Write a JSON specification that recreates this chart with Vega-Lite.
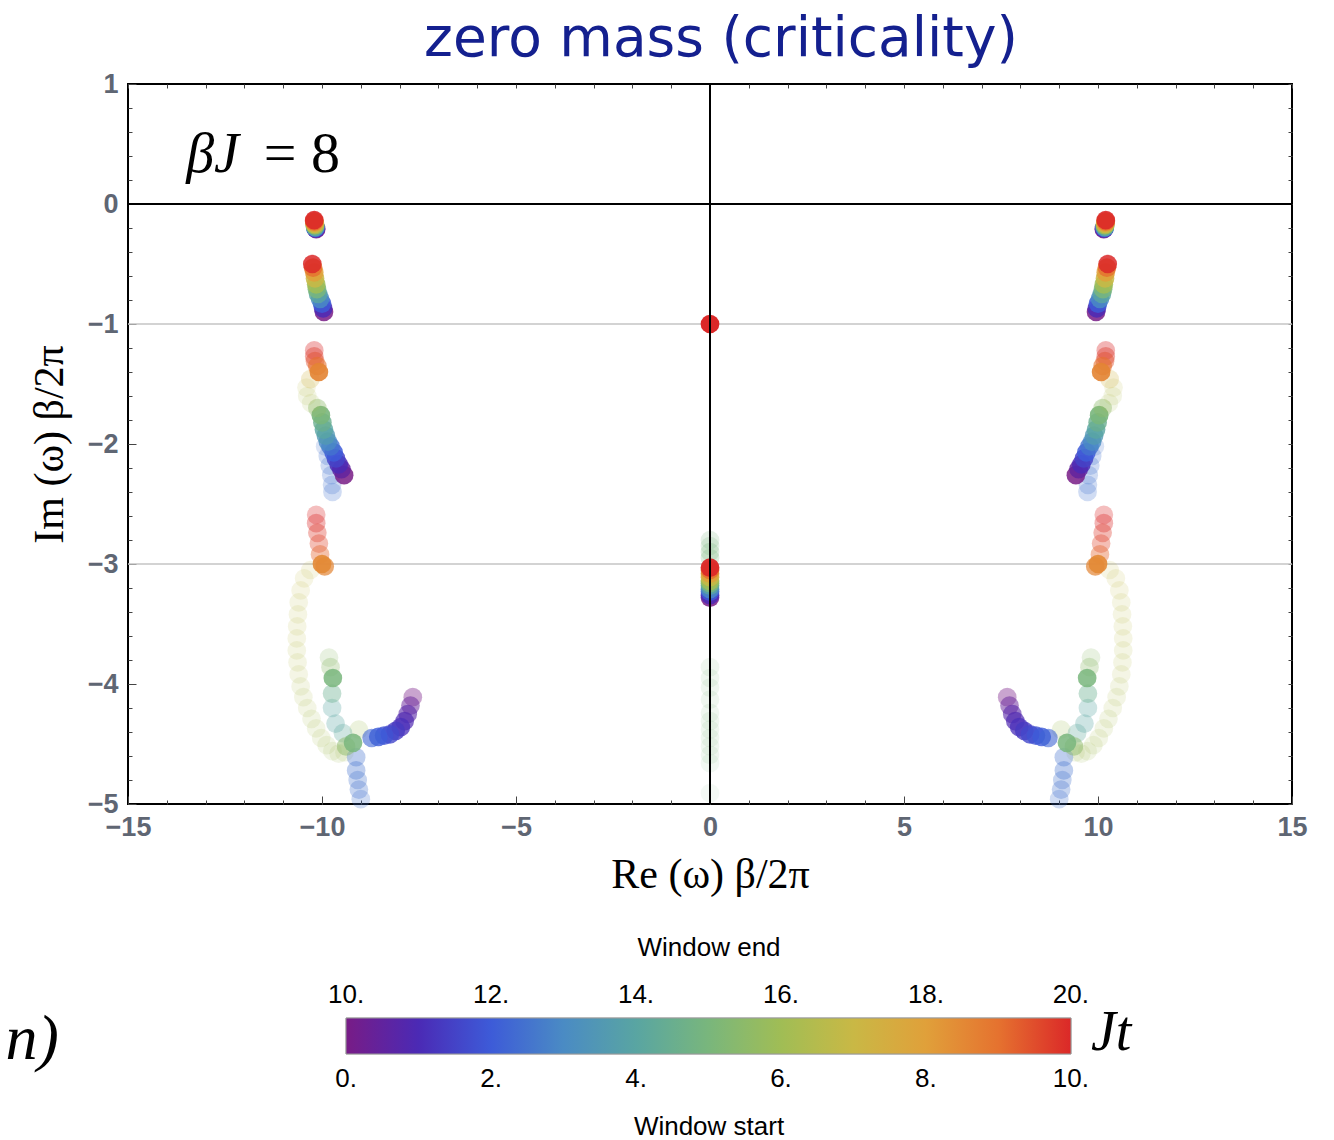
{
  "$schema": "https://vega.github.io/schema/vega-lite/v6.json",
  "width": 1164,
  "height": 720,
  "autosize": "none",
  "padding": {"left": 128, "top": 84, "right": 42, "bottom": 336},
  "background": "white",
  "config": {
    "view": {"stroke": "black", "strokeWidth": 2},
    "axis": {"labelOverlap": false, "labelFlush": false, "domain": false, "grid": false, "tickColor": "#444",
      "labelFont": "Liberation Sans", "labelFontSize": 27, "labelFontWeight": "bold", "labelColor": "#5f6673",
      "titleFont": "Liberation Serif", "titleFontSize": 42, "titleFontWeight": "normal", "titleColor": "black"}
  },
  "title": {"text": "zero mass (criticality)", "font": "DejaVu Sans", "fontSize": 55, "fontWeight": "normal", "color": "#14208f", "anchor": "middle", "frame": "group", "offset": 2, "dx": 11},
  "resolve": {"scale": {"color": "independent", "opacity": "independent"}, "axis": {"x": "independent", "y": "independent"}},
  "layer": [
    {
      "data": {"values": [{"y": -1}, {"y": -3}]},
      "mark": {"type": "rule", "color": "#c4c4c4", "strokeWidth": 1.5},
      "encoding": {
        "y": {"field": "y", "type": "quantitative", "scale": {"domain": [-5, 1], "nice": false, "zero": false},
          "title": "Im (ω) β/2π",
          "axis": {"orient": "left", "values": [-5, -4, -3, -2, -1, 0, 1], "format": "d",
            "tickSize": -8, "labelPadding": 18, "titlePadding": 16}
        }
      }
    },
    {
      "data": {"name": "poles", "values": [
        {"x":-10.3,"y":-3.05,"t":6.9,"a":0.15},{"x":-10.46,"y":-3.12,"t":6.85,"a":0.15},{"x":-10.55,"y":-3.22,"t":6.8,"a":0.15},{"x":-10.6,"y":-3.32,"t":6.75,"a":0.15},{"x":-10.62,"y":-3.42,"t":6.7,"a":0.15},{"x":-10.64,"y":-3.52,"t":6.65,"a":0.15},{"x":-10.65,"y":-3.62,"t":6.6,"a":0.15},{"x":-10.65,"y":-3.72,"t":6.55,"a":0.15},{"x":-10.63,"y":-3.82,"t":6.5,"a":0.15},{"x":-10.6,"y":-3.92,"t":6.45,"a":0.15},{"x":-10.55,"y":-4.02,"t":6.4,"a":0.15},{"x":-10.48,"y":-4.11,"t":6.35,"a":0.15},{"x":-10.38,"y":-4.2,"t":6.3,"a":0.15},{"x":-10.27,"y":-4.29,"t":6.25,"a":0.15},{"x":-10.15,"y":-4.37,"t":6.2,"a":0.15},{"x":-10.02,"y":-4.45,"t":6.15,"a":0.15},{"x":-9.88,"y":-4.51,"t":6.1,"a":0.15},{"x":-9.73,"y":-4.56,"t":6.05,"a":0.15},{"x":-9.57,"y":-4.58,"t":6.0,"a":0.15},{"x":-9.42,"y":-4.57,"t":5.95,"a":0.15},
        {"x":10.3,"y":-3.05,"t":6.9,"a":0.15},{"x":10.46,"y":-3.12,"t":6.85,"a":0.15},{"x":10.55,"y":-3.22,"t":6.8,"a":0.15},{"x":10.6,"y":-3.32,"t":6.75,"a":0.15},{"x":10.62,"y":-3.42,"t":6.7,"a":0.15},{"x":10.64,"y":-3.52,"t":6.65,"a":0.15},{"x":10.65,"y":-3.62,"t":6.6,"a":0.15},{"x":10.65,"y":-3.72,"t":6.55,"a":0.15},{"x":10.63,"y":-3.82,"t":6.5,"a":0.15},{"x":10.6,"y":-3.92,"t":6.45,"a":0.15},{"x":10.55,"y":-4.02,"t":6.4,"a":0.15},{"x":10.48,"y":-4.11,"t":6.35,"a":0.15},{"x":10.38,"y":-4.2,"t":6.3,"a":0.15},{"x":10.27,"y":-4.29,"t":6.25,"a":0.15},{"x":10.15,"y":-4.37,"t":6.2,"a":0.15},{"x":10.02,"y":-4.45,"t":6.15,"a":0.15},{"x":9.88,"y":-4.51,"t":6.1,"a":0.15},{"x":9.73,"y":-4.56,"t":6.05,"a":0.15},{"x":9.57,"y":-4.58,"t":6.0,"a":0.15},{"x":9.42,"y":-4.57,"t":5.95,"a":0.15},

        {"x":-9.92,"y":-2.02,"t":2.5,"a":0.2},{"x":-9.85,"y":-2.1,"t":2.5,"a":0.25},{"x":-9.8,"y":-2.18,"t":2.5,"a":0.25},{"x":-9.76,"y":-2.26,"t":2.5,"a":0.25},{"x":-9.74,"y":-2.34,"t":2.5,"a":0.25},{"x":-9.73,"y":-2.4,"t":2.5,"a":0.25},
        {"x":9.92,"y":-2.02,"t":2.5,"a":0.2},{"x":9.85,"y":-2.1,"t":2.5,"a":0.25},{"x":9.8,"y":-2.18,"t":2.5,"a":0.25},{"x":9.76,"y":-2.26,"t":2.5,"a":0.25},{"x":9.74,"y":-2.34,"t":2.5,"a":0.25},{"x":9.73,"y":-2.4,"t":2.5,"a":0.25},

        {"x":-9.12,"y":-4.61,"t":2.5,"a":0.35},{"x":-9.12,"y":-4.72,"t":2.5,"a":0.35},{"x":-9.08,"y":-4.8,"t":2.5,"a":0.3},{"x":-9.05,"y":-4.88,"t":2.5,"a":0.3},{"x":-9.0,"y":-4.96,"t":2.5,"a":0.25},
        {"x":9.12,"y":-4.61,"t":2.5,"a":0.35},{"x":9.12,"y":-4.72,"t":2.5,"a":0.35},{"x":9.08,"y":-4.8,"t":2.5,"a":0.3},{"x":9.05,"y":-4.88,"t":2.5,"a":0.3},{"x":9.0,"y":-4.96,"t":2.5,"a":0.25},

        {"x":-9.05,"y":-4.38,"t":6,"a":0.2},{"x":-9.46,"y":-4.41,"t":4.2,"a":0.3},{"x":-9.65,"y":-4.33,"t":4,"a":0.3},{"x":-9.74,"y":-4.2,"t":4,"a":0.3},{"x":-9.74,"y":-4.08,"t":4.5,"a":0.4},{"x":-9.78,"y":-3.86,"t":5.5,"a":0.3},{"x":-9.82,"y":-3.78,"t":5.5,"a":0.2},{"x":-9.72,"y":-3.95,"t":5,"a":0.85},{"x":-9.38,"y":-4.52,"t":5.5,"a":0.5},{"x":-9.2,"y":-4.49,"t":5,"a":0.85},
        {"x":9.05,"y":-4.38,"t":6,"a":0.2},{"x":9.46,"y":-4.41,"t":4.2,"a":0.3},{"x":9.65,"y":-4.33,"t":4,"a":0.3},{"x":9.74,"y":-4.2,"t":4,"a":0.3},{"x":9.74,"y":-4.08,"t":4.5,"a":0.4},{"x":9.78,"y":-3.86,"t":5.5,"a":0.3},{"x":9.82,"y":-3.78,"t":5.5,"a":0.2},{"x":9.72,"y":-3.95,"t":5,"a":0.85},{"x":9.38,"y":-4.52,"t":5.5,"a":0.5},{"x":9.2,"y":-4.49,"t":5,"a":0.85},

        {"x":-7.66,"y":-4.11,"t":0,"a":0.4},{"x":-7.72,"y":-4.18,"t":0.4,"a":0.5},{"x":-7.79,"y":-4.25,"t":0.7,"a":0.6},{"x":-7.87,"y":-4.31,"t":0.9,"a":0.7},{"x":-7.97,"y":-4.36,"t":1.1,"a":0.75},{"x":-8.1,"y":-4.39,"t":1.3,"a":0.8},{"x":-8.25,"y":-4.42,"t":1.6,"a":0.8},{"x":-8.4,"y":-4.43,"t":1.8,"a":0.8},{"x":-8.55,"y":-4.44,"t":2,"a":0.8},{"x":-8.72,"y":-4.45,"t":2.2,"a":0.6},
        {"x":7.66,"y":-4.11,"t":0,"a":0.4},{"x":7.72,"y":-4.18,"t":0.4,"a":0.5},{"x":7.79,"y":-4.25,"t":0.7,"a":0.6},{"x":7.87,"y":-4.31,"t":0.9,"a":0.7},{"x":7.97,"y":-4.36,"t":1.1,"a":0.75},{"x":8.1,"y":-4.39,"t":1.3,"a":0.8},{"x":8.25,"y":-4.42,"t":1.6,"a":0.8},{"x":8.4,"y":-4.43,"t":1.8,"a":0.8},{"x":8.55,"y":-4.44,"t":2,"a":0.8},{"x":8.72,"y":-4.45,"t":2.2,"a":0.6},

        {"x":-10.15,"y":-2.59,"t":10,"a":0.3},{"x":-10.15,"y":-2.66,"t":10,"a":0.35},{"x":-10.12,"y":-2.74,"t":9.8,"a":0.35},{"x":-10.08,"y":-2.83,"t":9.6,"a":0.35},{"x":-10.05,"y":-2.92,"t":9.2,"a":0.4},{"x":-9.93,"y":-3.02,"t":8.6,"a":0.7},{"x":-10.0,"y":-3.0,"t":8.5,"a":0.9},
        {"x":10.15,"y":-2.59,"t":10,"a":0.3},{"x":10.15,"y":-2.66,"t":10,"a":0.35},{"x":10.12,"y":-2.74,"t":9.8,"a":0.35},{"x":10.08,"y":-2.83,"t":9.6,"a":0.35},{"x":10.05,"y":-2.92,"t":9.2,"a":0.4},{"x":9.93,"y":-3.02,"t":8.6,"a":0.7},{"x":10.0,"y":-3.0,"t":8.5,"a":0.9},

        {"x":-9.43,"y":-2.26,"t":0,"a":0.85},{"x":-9.5,"y":-2.21,"t":0.5,"a":0.85},{"x":-9.57,"y":-2.17,"t":1,"a":0.85},{"x":-9.64,"y":-2.12,"t":1.5,"a":0.85},{"x":-9.7,"y":-2.07,"t":2,"a":0.85},{"x":-9.78,"y":-2.02,"t":2.5,"a":0.8},{"x":-9.85,"y":-1.98,"t":3,"a":0.8},{"x":-9.9,"y":-1.93,"t":3.5,"a":0.8},{"x":-9.95,"y":-1.88,"t":4,"a":0.8},{"x":-9.99,"y":-1.82,"t":4.5,"a":0.8},{"x":-10.03,"y":-1.76,"t":5,"a":0.9},{"x":-10.12,"y":-1.7,"t":5.5,"a":0.4},{"x":-10.28,"y":-1.66,"t":6.2,"a":0.15},{"x":-10.38,"y":-1.6,"t":6.4,"a":0.15},{"x":-10.4,"y":-1.53,"t":6.6,"a":0.15},{"x":-10.3,"y":-1.46,"t":7.2,"a":0.25},{"x":-10.2,"y":-1.22,"t":10,"a":0.35},{"x":-10.2,"y":-1.27,"t":9.8,"a":0.4},{"x":-10.18,"y":-1.31,"t":9.5,"a":0.45},{"x":-10.12,"y":-1.35,"t":9,"a":0.6},{"x":-10.08,"y":-1.4,"t":8.6,"a":0.9},
        {"x":9.43,"y":-2.26,"t":0,"a":0.85},{"x":9.5,"y":-2.21,"t":0.5,"a":0.85},{"x":9.57,"y":-2.17,"t":1,"a":0.85},{"x":9.64,"y":-2.12,"t":1.5,"a":0.85},{"x":9.7,"y":-2.07,"t":2,"a":0.85},{"x":9.78,"y":-2.02,"t":2.5,"a":0.8},{"x":9.85,"y":-1.98,"t":3,"a":0.8},{"x":9.9,"y":-1.93,"t":3.5,"a":0.8},{"x":9.95,"y":-1.88,"t":4,"a":0.8},{"x":9.99,"y":-1.82,"t":4.5,"a":0.8},{"x":10.03,"y":-1.76,"t":5,"a":0.9},{"x":10.12,"y":-1.7,"t":5.5,"a":0.4},{"x":10.28,"y":-1.66,"t":6.2,"a":0.15},{"x":10.38,"y":-1.6,"t":6.4,"a":0.15},{"x":10.4,"y":-1.53,"t":6.6,"a":0.15},{"x":10.3,"y":-1.46,"t":7.2,"a":0.25},{"x":10.2,"y":-1.22,"t":10,"a":0.35},{"x":10.2,"y":-1.27,"t":9.8,"a":0.4},{"x":10.18,"y":-1.31,"t":9.5,"a":0.45},{"x":10.12,"y":-1.35,"t":9,"a":0.6},{"x":10.08,"y":-1.4,"t":8.6,"a":0.9},

        {"x":-9.95,"y":-0.9,"t":0,"a":0.85},{"x":-9.97,"y":-0.87,"t":1,"a":0.85},{"x":-10.0,"y":-0.83,"t":2,"a":0.85},{"x":-10.05,"y":-0.79,"t":3,"a":0.85},{"x":-10.1,"y":-0.75,"t":4,"a":0.85},{"x":-10.13,"y":-0.71,"t":5,"a":0.85},{"x":-10.15,"y":-0.67,"t":6,"a":0.85},{"x":-10.18,"y":-0.62,"t":7,"a":0.85},{"x":-10.2,"y":-0.57,"t":8,"a":0.85},{"x":-10.23,"y":-0.53,"t":9,"a":0.85},{"x":-10.25,"y":-0.5,"t":10,"a":0.85},
        {"x":9.95,"y":-0.9,"t":0,"a":0.85},{"x":9.97,"y":-0.87,"t":1,"a":0.85},{"x":10.0,"y":-0.83,"t":2,"a":0.85},{"x":10.05,"y":-0.79,"t":3,"a":0.85},{"x":10.1,"y":-0.75,"t":4,"a":0.85},{"x":10.13,"y":-0.71,"t":5,"a":0.85},{"x":10.15,"y":-0.67,"t":6,"a":0.85},{"x":10.18,"y":-0.62,"t":7,"a":0.85},{"x":10.2,"y":-0.57,"t":8,"a":0.85},{"x":10.23,"y":-0.53,"t":9,"a":0.85},{"x":10.25,"y":-0.5,"t":10,"a":0.85},

        {"x":-10.15,"y":-0.21,"t":0,"a":0.9},{"x":-10.16,"y":-0.205,"t":1,"a":0.9},{"x":-10.17,"y":-0.2,"t":2,"a":0.9},{"x":-10.17,"y":-0.195,"t":3,"a":0.9},{"x":-10.18,"y":-0.19,"t":4,"a":0.9},{"x":-10.18,"y":-0.18,"t":5,"a":0.9},{"x":-10.18,"y":-0.175,"t":6,"a":0.9},{"x":-10.19,"y":-0.165,"t":7,"a":0.9},{"x":-10.19,"y":-0.155,"t":8,"a":0.9},{"x":-10.2,"y":-0.145,"t":9,"a":0.9},{"x":-10.2,"y":-0.135,"t":10,"a":0.9},
        {"x":10.15,"y":-0.21,"t":0,"a":0.9},{"x":10.16,"y":-0.205,"t":1,"a":0.9},{"x":10.17,"y":-0.2,"t":2,"a":0.9},{"x":10.17,"y":-0.195,"t":3,"a":0.9},{"x":10.18,"y":-0.19,"t":4,"a":0.9},{"x":10.18,"y":-0.18,"t":5,"a":0.9},{"x":10.18,"y":-0.175,"t":6,"a":0.9},{"x":10.19,"y":-0.165,"t":7,"a":0.9},{"x":10.19,"y":-0.155,"t":8,"a":0.9},{"x":10.2,"y":-0.145,"t":9,"a":0.9},{"x":10.2,"y":-0.135,"t":10,"a":0.9},

        {"x":0,"y":-3.86,"t":5,"a":0.12},{"x":0,"y":-3.95,"t":5,"a":0.12},{"x":0,"y":-4.03,"t":5,"a":0.12},{"x":0,"y":-4.13,"t":5,"a":0.12},{"x":0,"y":-4.24,"t":5,"a":0.12},{"x":0,"y":-4.31,"t":5,"a":0.12},{"x":0,"y":-4.38,"t":5,"a":0.12},{"x":0,"y":-4.45,"t":5,"a":0.12},{"x":0,"y":-4.52,"t":5,"a":0.12},{"x":0,"y":-4.59,"t":5,"a":0.12},{"x":0,"y":-4.66,"t":5,"a":0.1},{"x":0,"y":-4.91,"t":5,"a":0.08},
        {"x":0,"y":-2.8,"t":5,"a":0.2},{"x":0,"y":-2.85,"t":5,"a":0.2},{"x":0,"y":-2.9,"t":5,"a":0.25},{"x":0,"y":-2.95,"t":5,"a":0.25},
        {"x":0,"y":-3.28,"t":0,"a":0.85},{"x":0,"y":-3.26,"t":1,"a":0.85},{"x":0,"y":-3.23,"t":2,"a":0.85},{"x":0,"y":-3.21,"t":3,"a":0.85},{"x":0,"y":-3.18,"t":4,"a":0.85},{"x":0,"y":-3.16,"t":5,"a":0.85},{"x":0,"y":-3.14,"t":6,"a":0.85},{"x":0,"y":-3.11,"t":7,"a":0.85},{"x":0,"y":-3.08,"t":8,"a":0.85},{"x":0,"y":-3.05,"t":9,"a":0.9},{"x":0,"y":-3.03,"t":10,"a":0.95},
        {"x":0,"y":-1,"t":10,"a":1}
      ]},
      "mark": {"type": "circle", "size": 350},
      "encoding": {
        "x": {"field": "x", "type": "quantitative", "scale": {"domain": [-15, 15], "nice": false, "zero": false},
          "title": "Re (ω) β/2π",
          "axis": {"orient": "bottom", "values": [-15, -10, -5, 0, 5, 10, 15], "format": "d",
            "tickSize": -8, "labelPadding": 18, "titlePadding": 14}
        },
        "y": {"field": "y", "type": "quantitative", "axis": null},
        "color": {"field": "t", "type": "quantitative",
          "scale": {"domain": [0,1,2,3,4,5,6,7,8,9,10], "range": ["#781c86","#4b2ab5","#3d5bd8","#4a8bc4","#59a5a2","#79b67c","#a0bd55","#c9b845","#e0a03a","#e5722f","#db2828"], "interpolate": "rgb"},
          "legend": null
        },
        "opacity": {"field": "a", "type": "quantitative", "scale": {"domain": [0, 1], "range": [0, 1]}, "legend": null}
      }
    },
    {
      "data": {"values": [{"y": 0}]},
      "mark": {"type": "rule", "color": "black", "strokeWidth": 2},
      "encoding": {"y": {"field": "y", "type": "quantitative",
        "axis": {"orient": "left", "values": [-5,-4.8,-4.6,-4.4,-4.2,-4,-3.8,-3.6,-3.4,-3.2,-3,-2.8,-2.6,-2.4,-2.2,-2,-1.8,-1.6,-1.4,-1.2,-1,-0.8,-0.6,-0.4,-0.2,0,0.2,0.4,0.6,0.8,1],
          "labels": false, "title": null, "tickSize": -4}}}
    },
    {
      "data": {"values": [{"x": 0}]},
      "mark": {"type": "rule", "color": "black", "strokeWidth": 2},
      "encoding": {"x": {"field": "x", "type": "quantitative",
        "axis": {"orient": "bottom", "values": [-15,-14,-13,-12,-11,-10,-9,-8,-7,-6,-5,-4,-3,-2,-1,0,1,2,3,4,5,6,7,8,9,10,11,12,13,14,15],
          "labels": false, "title": null, "tickSize": -4}}}
    },
    {
      "data": {"values": [{"x": -13.5, "y": 0.41, "label": "βJ"}, {"x": 9.82, "y": -6.91, "label": "Jt"}]},
      "mark": {"type": "text", "font": "Liberation Serif", "fontStyle": "italic", "fontSize": 56, "align": "left", "baseline": "middle", "color": "black"},
      "encoding": {
        "x": {"field": "x", "type": "quantitative",
          "axis": {"orient": "top", "values": [-15,-14,-13,-12,-11,-10,-9,-8,-7,-6,-5,-4,-3,-2,-1,0,1,2,3,4,5,6,7,8,9,10,11,12,13,14,15],
            "labels": false, "title": null, "tickSize": -4}},
        "y": {"field": "y", "type": "quantitative",
          "axis": {"orient": "right", "values": [-5,-4.8,-4.6,-4.4,-4.2,-4,-3.8,-3.6,-3.4,-3.2,-3,-2.8,-2.6,-2.4,-2.2,-2,-1.8,-1.6,-1.4,-1.2,-1,-0.8,-0.6,-0.4,-0.2,0,0.2,0.4,0.6,0.8,1],
            "labels": false, "title": null, "tickSize": -4}},
        "text": {"field": "label"}}
    },
    {
      "data": {"values": [{"x": -11.5, "y": 0.41, "label": "= 8"}]},
      "mark": {"type": "text", "font": "Liberation Serif", "fontSize": 58, "align": "left", "baseline": "middle", "color": "black"},
      "encoding": {"x": {"field": "x", "type": "quantitative", "axis": null}, "y": {"field": "y", "type": "quantitative", "axis": null}, "text": {"field": "label"}}
    },
    {
      "data": {"values": [{"x": -16.78, "y": -6.97, "label": "n)"}]},
      "mark": {"type": "text", "font": "Liberation Serif", "fontStyle": "italic", "fontSize": 64, "align": "right", "baseline": "middle", "color": "black"},
      "encoding": {"x": {"field": "x", "type": "quantitative", "axis": null}, "y": {"field": "y", "type": "quantitative", "axis": null}, "text": {"field": "label"}}
    },
    {
      "data": {"values": [{"start": 0}, {"start": 10}]},
      "mark": {"type": "point", "filled": true, "size": 0},
      "encoding": {
        "color": {"field": "start", "type": "quantitative",
          "scale": {"domain": [-0.001,1,2,3,4,5,6,7,8,9,10.001], "range": ["#781c86","#4b2ab5","#3d5bd8","#4a8bc4","#59a5a2","#79b67c","#a0bd55","#c9b845","#e0a03a","#e5722f","#db2828"], "interpolate": "rgb"},
          "legend": {"orient": "none", "legendX": 218, "legendY": 934, "direction": "horizontal",
            "gradientLength": 725, "gradientThickness": 36, "gradientStrokeColor": "#999", "gradientStrokeWidth": 1,
            "values": [0, 2, 4, 6, 8, 10], "labelExpr": "datum.value + '.'", "labelAlign": "center",
            "labelFont": "Liberation Sans", "labelFontSize": 26, "labelColor": "black", "labelOffset": 12,
            "title": "Window start", "titleOrient": "bottom", "titleAnchor": "middle", "titleFont": "Liberation Sans",
            "titleFontSize": 26, "titleFontWeight": "normal", "titleColor": "black", "titlePadding": 22,
            "encode": {"labels": {"enter": {"align": {"value": "center"}}, "update": {"align": {"value": "center"}}}}}
        }
      }
    },
    {
      "data": {"values": [{"end": 10}, {"end": 20}]},
      "mark": {"type": "point", "filled": true, "opacity": 0},
      "encoding": {
        "color": {"field": "end", "type": "quantitative",
          "scale": {"domain": [9.999,11,12,13,14,15,16,17,18,19,20.001], "range": ["#781c86","#4b2ab5","#3d5bd8","#4a8bc4","#59a5a2","#79b67c","#a0bd55","#c9b845","#e0a03a","#e5722f","#db2828"], "interpolate": "rgb"},
          "legend": {"orient": "none", "legendX": 218, "legendY": 851, "direction": "horizontal",
            "gradientLength": 725, "gradientThickness": 36, "gradientStrokeColor": "#999", "gradientStrokeWidth": 1,
            "values": [10, 12, 14, 16, 18, 20], "labelExpr": "datum.value + '.'", "labelAlign": "center",
            "labelFont": "Liberation Sans", "labelFontSize": 26, "labelColor": "black", "labelOffset": -72,
            "title": "Window end", "titleOrient": "top", "titleAnchor": "middle", "titleFont": "Liberation Sans",
            "titleFontSize": 26, "titleFontWeight": "normal", "titleColor": "black", "titlePadding": 57,
            "encode": {"labels": {"enter": {"align": {"value": "center"}}, "update": {"align": {"value": "center"}}}}}
        }
      }
    }
  ]
}
